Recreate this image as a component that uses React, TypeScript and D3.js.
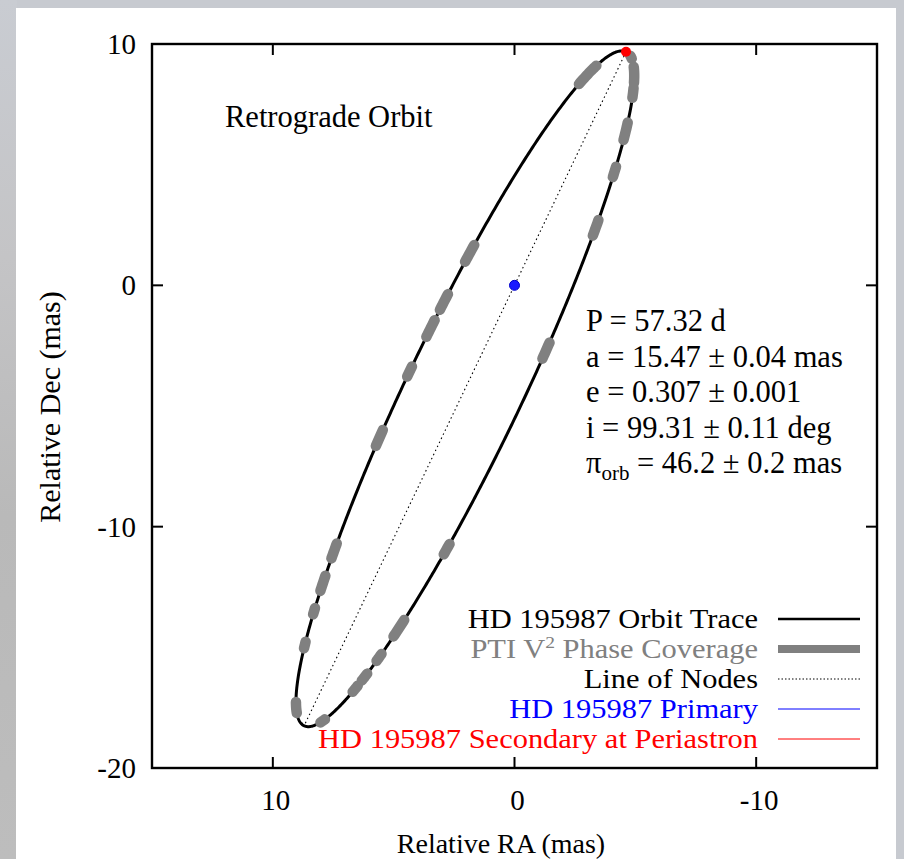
import React from "react";
import * as d3 from "d3";

const W = 904;
const H = 859;

// Orbital elements (from the annotation; node and omega)
const periodDays = 57.32;
const semiMajor = 15.47; // mas
const semiMajorErr = 0.04;
const eccentricity = 0.307;
const eccErr = 0.001;
const inclinationDeg = 99.31;
const inclErr = 0.11;
const omegaDeg = 0; // argument of periastron (estimated)
const nodeDeg = 334.5; // position angle of ascending node (estimated)
const parallaxOrb = 46.2;
const parallaxErr = 0.2;

// Axes
const xDomain = [15, -15];
const yDomain = [-20, 10];
const xTicks = [10, 0, -10];
const yTicks = [10, 0, -10, -20];

// PTI V^2 phase coverage (orbital phase from periastron)
const coverageStart = [
  0.011, 0.026, 0.0446, 0.0667, 0.0898, 0.1147, 0.1687, 0.2694, 0.3203, 0.3489,
  0.3687, 0.3827, 0.4415, 0.544, 0.6274, 0.6559, 0.6732, 0.695, 0.7587, 0.7929,
  0.8116, 0.8241, 0.8462, 0.9415,
];
const coverageEnd = [
  0.0155, 0.0407, 0.0515, 0.0763, 0.0948, 0.1216, 0.1759, 0.2756, 0.3335, 0.3556,
  0.3766, 0.3907, 0.4518, 0.5645, 0.6333, 0.6607, 0.6836, 0.7043, 0.7668, 0.7977,
  0.8193, 0.8313, 0.8539, 0.9588,
];

const legendLabels = [
  "HD 195987 Orbit Trace",
  "PTI V2 Phase Coverage",
  "Line of Nodes",
  "HD 195987 Primary",
  "HD 195987 Secondary at Periastron",
];
const legendColors = ["#000000", "#808080", "#000000", "#0000ff", "#ff0000"];

const FONT = "'Liberation Serif', 'Times New Roman', serif";

// Frame
const L = 152, R = 877, T = 44, B = 768;

const rad = Math.PI / 180;
const w = omegaDeg * rad, Om = nodeDeg * rad, inc = inclinationDeg * rad;
const TA = semiMajor * (Math.cos(w) * Math.cos(Om) - Math.sin(w) * Math.sin(Om) * Math.cos(inc));
const TB = semiMajor * (Math.cos(w) * Math.sin(Om) + Math.sin(w) * Math.cos(Om) * Math.cos(inc));
const TF = semiMajor * (-Math.sin(w) * Math.cos(Om) - Math.cos(w) * Math.sin(Om) * Math.cos(inc));
const TG = semiMajor * (-Math.sin(w) * Math.sin(Om) + Math.cos(w) * Math.cos(Om) * Math.cos(inc));

function solveKepler(M: number, e: number) {
  let E = M;
  for (let k = 0; k < 50; k++) E = E - (E - e * Math.sin(E) - M) / (1 - e * Math.cos(E));
  return E;
}

function posAtPhase(phase: number): [number, number] {
  const M = 2 * Math.PI * phase;
  const E = solveKepler(M, eccentricity);
  const X = Math.cos(E) - eccentricity;
  const Y = Math.sqrt(1 - eccentricity * eccentricity) * Math.sin(E);
  const dec = TA * X + TF * Y;
  const ra = TB * X + TG * Y;
  return [ra, dec];
}

// node point at true anomaly nu; sign +1 ascending node, -1 descending node
function nodePoint(nu: number, sign: number): [number, number] {
  const r = (semiMajor * (1 - eccentricity ** 2)) / (1 + eccentricity * Math.cos(nu));
  return [sign * r * Math.sin(Om), sign * r * Math.cos(Om)];
}

export default function App() {
  const x = d3.scaleLinear().domain(xDomain).range([L, R]);
  const y = d3.scaleLinear().domain(yDomain).range([B, T]);
  const line = d3
    .line<[number, number]>()
    .x((d) => x(d[0]))
    .y((d) => y(d[1]));

  const orbitPts: [number, number][] = d3.range(0, 1.0001, 1 / 720).map((p) => posAtPhase(p));
  const segs = coverageStart.map((s, i) => {
    const e = coverageEnd[i];
    const n = Math.max(4, Math.ceil((e - s) * 800));
    return d3.range(n + 1).map((k) => posAtPhase(s + ((e - s) * k) / n));
  });
  const n1 = nodePoint(-w, 1);
  const n2 = nodePoint(Math.PI - w, -1);
  const peri = posAtPhase(0);

  const legX1 = 778, legX2 = 860, legTextX = 758;
  const legY0 = 619, legDy = 30;

  const params = [
    <>P = {periodDays.toFixed(2)} d</>,
    <>a = {semiMajor.toFixed(2)} ± {semiMajorErr.toFixed(2)} mas</>,
    <>e = {eccentricity.toFixed(3)} ± {eccErr.toFixed(3)}</>,
    <>i = {inclinationDeg.toFixed(2)} ± {inclErr.toFixed(2)} deg</>,
    <>
      π<tspan fontSize={21} dy={7}>orb</tspan>
      <tspan dy={-7}> = {parallaxOrb.toFixed(1)} ± {parallaxErr.toFixed(1)} mas</tspan>
    </>,
  ];

  return (
    <svg width={W} height={H} style={{ display: "block", position: "absolute", left: 0, top: 0 }}>
      <defs>
        <linearGradient id="leftStrip" x1="0" y1="0" x2="0" y2="1">
          <stop offset="0" stopColor="#c9ccd2" />
          <stop offset="0.3" stopColor="#c4c4c6" />
          <stop offset="0.6" stopColor="#b9b9b9" />
          <stop offset="1" stopColor="#bdbdbd" />
        </linearGradient>
      </defs>
      <rect x={0} y={0} width={W} height={H} fill="#c7cad0" />
      <rect x={0} y={0} width={17} height={H} fill="url(#leftStrip)" />
      <rect x={16} y={8} width={880} height={H - 8} fill="#ffffff" />

      {/* orbit */}
      <path d={line(orbitPts) ?? ""} fill="none" stroke="#000" strokeWidth={3} strokeLinejoin="round" />
      {segs.map((s, i) => (
        <path
          key={i}
          d={line(s) ?? ""}
          fill="none"
          stroke="#808080"
          strokeWidth={10.5}
          strokeLinecap="round"
          strokeLinejoin="round"
        />
      ))}
      {/* line of nodes */}
      <line
        x1={x(n1[0])}
        y1={y(n1[1])}
        x2={x(n2[0])}
        y2={y(n2[1])}
        stroke="#000"
        strokeWidth={1.1}
        strokeDasharray="1.5,3"
      />
      <circle cx={x(0)} cy={y(0)} r={5} fill="#1a1aff" stroke="#0000cc" strokeWidth={1} />
      <circle cx={x(peri[0])} cy={y(peri[1])} r={5} fill="#ff0000" />

      {/* frame */}
      <rect x={L} y={T} width={R - L} height={B - T} fill="none" stroke="#000" strokeWidth={2.4} />
      {xTicks.map((t) => (
        <g key={"xt" + t}>
          <line x1={x(t)} x2={x(t)} y1={B} y2={B - 11} stroke="#000" strokeWidth={2} />
          <line x1={x(t)} x2={x(t)} y1={T} y2={T + 11} stroke="#000" strokeWidth={2} />
          <text x={x(t) + 3} y={810} textAnchor="middle" fontFamily={FONT} fontSize={29}>
            {t}
          </text>
        </g>
      ))}
      {yTicks.map((t) => (
        <g key={"yt" + t}>
          <line x1={L} x2={L + 11} y1={y(t)} y2={y(t)} stroke="#000" strokeWidth={2} />
          <line x1={R} x2={R - 11} y1={y(t)} y2={y(t)} stroke="#000" strokeWidth={2} />
          <text x={136} y={y(t) + 10} textAnchor="end" fontFamily={FONT} fontSize={29}>
            {t}
          </text>
        </g>
      ))}
      <text x={501} y={853} textAnchor="middle" fontFamily={FONT} fontSize={28}>
        Relative RA (mas)
      </text>
      <text
        transform={`translate(60, 407) rotate(-90)`}
        textAnchor="middle"
        fontFamily={FONT}
        fontSize={30}
      >
        Relative Dec (mas)
      </text>

      <text x={225} y={127} fontFamily={FONT} fontSize={30.5}>
        Retrograde Orbit
      </text>

      {params.map((p, i) => (
        <text key={"p" + i} x={586} y={331 + i * 35.5} fontFamily={FONT} fontSize={30.5}>
          {p}
        </text>
      ))}

      {/* legend */}
      {legendLabels.map((lab, i) => {
        const ly = legY0 + i * legDy;
        const color = legendColors[i];
        return (
          <g key={"lg" + i}>
            <text
              transform={`translate(${legTextX}, ${ly + 9}) scale(1.15, 1)`}
              textAnchor="end"
              fontFamily={FONT}
              fontSize={26.5}
              fill={color}
            >
              {i === 1 ? (
                <>
                  PTI V<tspan fontSize={17} dy={-10}>2</tspan>
                  <tspan dy={10}> Phase Coverage</tspan>
                </>
              ) : (
                lab
              )}
            </text>
            <line
              x1={legX1}
              x2={legX2}
              y1={ly}
              y2={ly}
              stroke={color}
              strokeWidth={i === 0 ? 2.6 : i === 1 ? 8 : 1}
              strokeDasharray={i === 2 ? "1.5,2" : undefined}
            />
          </g>
        );
      })}
    </svg>
  );
}
